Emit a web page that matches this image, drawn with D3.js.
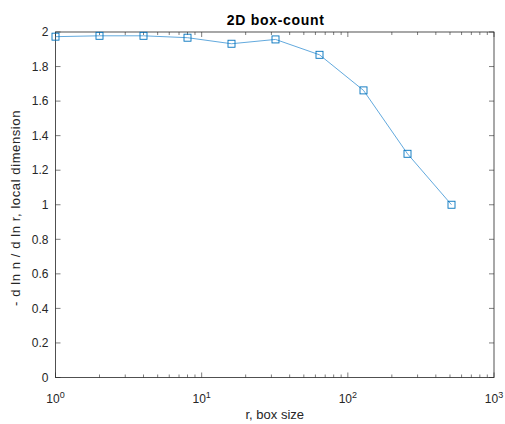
<!DOCTYPE html>
<html>
<head>
<meta charset="utf-8">
<script src="https://cdn.jsdelivr.net/npm/d3@7"></script>
<style>
  body { margin: 0; background: #fff; }
  text { font-family: Arial, "Liberation Sans", Helvetica, sans-serif; }
</style>
</head>
<body>
<div id="chart"></div>
<script>
"use strict";
// box sizes and local dimension values
const boxSize = [1, 2, 4, 8, 16, 32, 64, 128, 256, 512];
const localDim = [1.973, 1.978, 1.978, 1.967, 1.932, 1.957, 1.868, 1.662, 1.295, 1.0];
const yTicks = [0, 0.2, 0.4, 0.6, 0.8, 1, 1.2, 1.4, 1.6, 1.8, 2];
const xTicks = [1, 10, 100, 1000];

const W = 505, H = 424;
const m = {left: 55.5, top: 32, right: 11, bottom: 46.5};
const iw = W - m.left - m.right, ih = H - m.top - m.bottom;
const axisCol = "#262626", lineCol = "#0072BD";

const svg = d3.select("#chart").append("svg").attr("width", W).attr("height", H);
const g = svg.append("g").attr("transform", `translate(${m.left},${m.top})`);

const x = d3.scaleLog().domain([1, 1000]).range([0, iw]);
const y = d3.scaleLinear().domain([0, 2]).range([ih, 0]);

// minor ticks for log axis
const minor = [];
for (let d = 1; d < 1000; d *= 10) for (let k = 2; k <= 9; k++) minor.push(d * k);

const tl = 5, tm = 3;
// bottom & top ticks
[[ih, -1], [0, 1]].forEach(([yy, dir]) => {
  g.selectAll(null).data(xTicks).enter().append("line")
    .attr("x1", d => x(d)).attr("x2", d => x(d))
    .attr("y1", yy).attr("y2", yy + dir * tl)
    .attr("stroke", axisCol).attr("stroke-width", 0.6);
  g.selectAll(null).data(minor).enter().append("line")
    .attr("x1", d => x(d)).attr("x2", d => x(d))
    .attr("y1", yy).attr("y2", yy + dir * tm)
    .attr("stroke", axisCol).attr("stroke-width", 0.6);
});
// left & right ticks
[[0, 1], [iw, -1]].forEach(([xx, dir]) => {
  g.selectAll(null).data(yTicks).enter().append("line")
    .attr("x1", xx).attr("x2", xx + dir * tl)
    .attr("y1", d => y(d)).attr("y2", d => y(d))
    .attr("stroke", axisCol).attr("stroke-width", 0.6);
});

// box
g.append("rect").attr("width", iw).attr("height", ih)
  .attr("fill", "none").attr("stroke", axisCol).attr("stroke-width", 0.8);

// y tick labels
g.selectAll(null).data(yTicks).enter().append("text")
  .attr("x", -7).attr("y", d => y(d)).attr("dy", "0.35em")
  .attr("text-anchor", "end").attr("font-size", 12).attr("fill", axisCol)
  .text(d => d3.format("")(d));

// x tick labels 10^n
const xl = g.selectAll(null).data(xTicks).enter().append("text")
  .attr("x", d => x(d)).attr("y", ih + 25)
  .attr("text-anchor", "middle").attr("font-size", 12).attr("fill", axisCol);
xl.append("tspan").text("10");
xl.append("tspan").attr("dy", -5).attr("font-size", 9).text(d => Math.round(Math.log10(d)));

// line + markers
g.append("path").datum(boxSize.map((b, i) => [b, localDim[i]]))
  .attr("d", d3.line().x(d => x(d[0])).y(d => y(d[1])))
  .attr("fill", "none").attr("stroke", "#3a93d4").attr("stroke-width", 0.8);
g.selectAll(null).data(boxSize).enter().append("rect")
  .attr("x", (d) => x(d) - 3.5).attr("y", (d, i) => y(localDim[i]) - 3.5)
  .attr("width", 7).attr("height", 7)
  .attr("fill", "none").attr("stroke", lineCol).attr("stroke-width", 0.9);

// title and labels
svg.append("text").attr("x", m.left + iw / 2 + 1).attr("y", 25)
  .attr("text-anchor", "middle").attr("font-size", 14).attr("font-weight", "bold")
  .attr("letter-spacing", 0.7)
  .attr("fill", "#000").text("2D box-count");
svg.append("text").attr("x", m.left + iw / 2).attr("y", H - 5)
  .attr("text-anchor", "middle").attr("font-size", 13).attr("fill", axisCol)
  .text("r, box size");
svg.append("text")
  .attr("transform", `translate(20,208) rotate(-90)`)
  .attr("text-anchor", "middle").attr("font-size", 13).attr("fill", axisCol)
  .attr("letter-spacing", 0.6)
  .text("- d ln n / d ln r, local dimension");
</script>
</body>
</html>
